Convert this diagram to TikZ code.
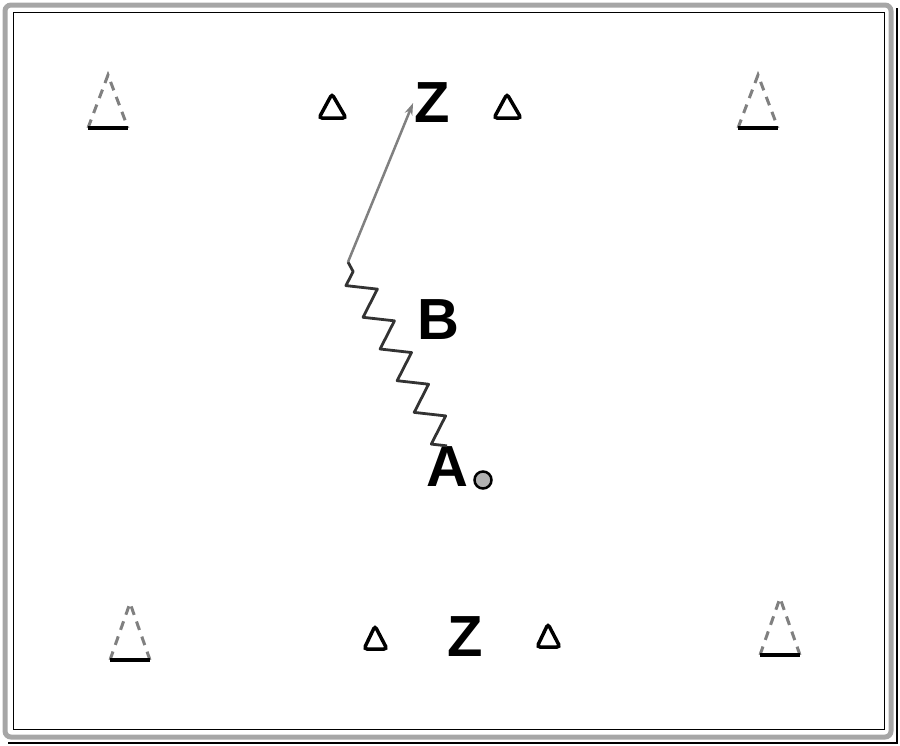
\documentclass[tikz,border=0pt]{standalone}
\usepackage{fontspec}
\setmainfont{Liberation Sans}
\usetikzlibrary{arrows.meta,decorations.pathmorphing}

\begin{document}
\begin{tikzpicture}[x=1pt,y=-1pt,
  player/.style={font=\fontsize{58}{58}\selectfont\bfseries, inner sep=1pt},
  bigcone/.style={draw=gray, line width=3pt, dash pattern=on 9pt off 7pt},
  conebase/.style={draw=black, line width=4pt},
  smallcone/.style={draw=black, line width=3.5pt, rounded corners=3pt},
  ball/.style={circle, draw, line width=2.5pt, fill=gray!60, minimum size=17pt, inner sep=0pt},
  dribble/.style={draw=gray!40!black, line width=2.8pt, line join=round, decorate,
    decoration={zigzag, amplitude=13pt, segment length=36pt}},
  run/.style={draw=gray, line width=2.5pt, -{Stealth[length=12pt,width=8pt]}}]
\useasboundingbox (0,0) rectangle (900,745);

% frame
\draw[gray!70, line width=5pt, rounded corners=6pt] (5,5) rectangle (891,737);
\draw[thin] (13,12) rectangle (884,729);
\draw[line width=1.5pt] (897,8) -- (897,743) -- (8,743);

% big cones
\draw[bigcone] (88,128) -- (108,75) -- (128,128);
\draw[conebase] (88,128) -- (128,128);
\draw[bigcone] (738,128) -- (758,75) -- (778,128);
\draw[conebase] (738,128) -- (778,128);
\draw[bigcone] (110,660) -- (130,603) -- (150,660);
\draw[conebase] (110,660) -- (150,660);
\draw[bigcone] (760,655) -- (780,598) -- (800,655);
\draw[conebase] (760,655) -- (800,655);

% small cones
\draw[smallcone] (319,118) -- (332,94) -- (346,118) -- cycle;
\draw[smallcone] (494,118) -- (507,94) -- (521,118) -- cycle;
\draw[smallcone] (364,649) -- (375,626) -- (387,649) -- cycle;
\draw[smallcone] (537,647) -- (548,624) -- (560,647) -- cycle;

% players
\node[player] (z1) at (432,103) {Z};
\node[player] (b) at (438,320) {B};
\node[player] (a) at (447,467) {A};
\node[player] (z2) at (465,637) {Z};
\node[ball] (ball) at (483,480) {};

\coordinate (turn) at (348,262);
\draw[dribble] (a.north) -- (turn);
\draw[run] (turn) -- (z1.west);
\end{tikzpicture}
\end{document}
